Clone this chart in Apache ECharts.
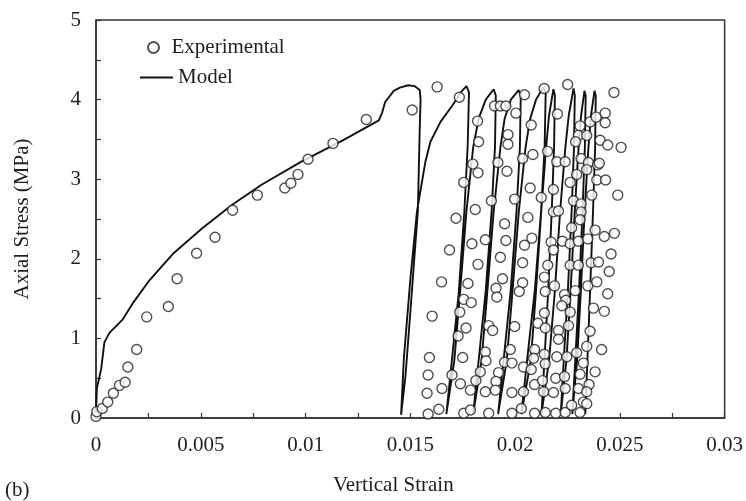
<!DOCTYPE html>
<html>
<head>
<meta charset="utf-8">
<script src="https://cdn.jsdelivr.net/npm/echarts@6/dist/echarts.min.js"></script>
<style>
html,body{margin:0;padding:0;background:#fff;}
#chart{width:746px;height:501px;}
</style>
</head>
<body>
<div id="chart"></div>
<script>
// ---- Data ----
const seriesNames = ['Experimental', 'Model'];
const xAxisTitle = 'Vertical Strain';
const yAxisTitle = 'Axial Stress (MPa)';
const panelLabel = '(b)';

// Experimental points [strain, stress]
const experimental = [
  [0,0.02],[0.00004,0.08],[0.0003,0.12],[0.00056,0.20],[0.00083,0.31],[0.00112,0.41],[0.00139,0.45],
  [0.00152,0.64],[0.00194,0.86],[0.00242,1.27],[0.00345,1.40],[0.00387,1.75],[0.0048,2.07],[0.00568,2.27],
  [0.00652,2.61],[0.0077,2.80],[0.00901,2.89],[0.0093,2.95],[0.00964,3.06],[0.01012,3.25],[0.01131,3.45],
  [0.0129,3.75],[0.01509,3.87],
  [0.01628,4.16],[0.01734,4.03],[0.01821,3.73],[0.01902,3.92],[0.0193,3.92],[0.01956,3.92],[0.02004,3.83],
  [0.02045,4.06],[0.02139,4.14],[0.02251,4.19],[0.02472,4.09],[0.02077,3.68],[0.02202,3.82],[0.0231,3.67],
  [0.02358,3.72],[0.02387,3.78],[0.0243,3.83],[0.0243,3.71],[0.01826,3.47],[0.01966,3.56],[0.01966,3.44],
  [0.02302,3.55],[0.02342,3.55],[0.02289,3.47],[0.02406,3.49],[0.02442,3.43],[0.02506,3.40],
  [0.01798,3.19],[0.01823,3.08],[0.01918,3.21],[0.01961,3.10],[0.02036,3.26],[0.02085,3.31],[0.02155,3.35],
  [0.02199,3.22],[0.02239,3.22],[0.02315,3.26],[0.0235,3.21],[0.02394,3.18],[0.02402,3.20],[0.02294,3.06],
  [0.02342,3.12],[0.0239,2.99],[0.02432,2.99],[0.01755,2.96],[0.02263,2.96],[0.02072,2.89],[0.02183,2.87],
  [0.01887,2.73],[0.01998,2.75],[0.02125,2.77],[0.02279,2.73],[0.02315,2.69],[0.02366,2.80],[0.0249,2.80],
  [0.0181,2.62],[0.01718,2.51],[0.02183,2.59],[0.02207,2.60],[0.02315,2.59],[0.02061,2.52],[0.0231,2.49],
  [0.0195,2.44],[0.0227,2.39],[0.01858,2.24],[0.01956,2.23],[0.0208,2.26],[0.02172,2.21],[0.02226,2.22],
  [0.02263,2.19],[0.02302,2.22],[0.02347,2.25],[0.02382,2.36],[0.02426,2.28],[0.02474,2.32],[0.01687,2.11],
  [0.01794,2.19],[0.02045,2.17],[0.02183,2.11],[0.01823,1.93],[0.0193,2.02],[0.02036,1.95],[0.02156,1.92],
  [0.02263,1.92],[0.02302,1.92],[0.02363,1.95],[0.02398,1.96],[0.02458,2.06],[0.02449,1.84],
  [0.01649,1.71],[0.01775,1.69],[0.0194,1.75],[0.01909,1.63],[0.01913,1.52],[0.02036,1.70],[0.0202,1.59],
  [0.0214,1.77],[0.02144,1.59],[0.02188,1.66],[0.02236,1.55],[0.02287,1.60],[0.02347,1.66],[0.0239,1.71],
  [0.02442,1.56],[0.01755,1.49],[0.01791,1.45],[0.01736,1.33],[0.01604,1.28],[0.02242,1.48],[0.02223,1.41],
  [0.02263,1.33],[0.02374,1.38],[0.02426,1.34],[0.0214,1.32],[0.02109,1.19],[0.01874,1.16],[0.01893,1.10],
  [0.01998,1.15],[0.01766,1.13],[0.02144,1.13],[0.02207,1.10],[0.02255,1.16],[0.02358,1.09],[0.01728,1.03],
  [0.02207,0.99],[0.02093,0.86],[0.01858,0.83],[0.01977,0.86],[0.0214,0.80],[0.02342,0.90],[0.02413,0.86],
  [0.01591,0.76],[0.0175,0.76],[0.02088,0.75],[0.02199,0.77],[0.02247,0.77],[0.02294,0.82],[0.01861,0.72],
  [0.0195,0.70],[0.01985,0.69],[0.0204,0.64],[0.02077,0.61],[0.02144,0.68],[0.02326,0.69],[0.02382,0.58],
  [0.01585,0.54],[0.01699,0.54],[0.01834,0.58],[0.01921,0.57],[0.01813,0.47],[0.01739,0.43],[0.01909,0.46],
  [0.02093,0.42],[0.02131,0.47],[0.02194,0.50],[0.02236,0.52],[0.0231,0.55],[0.02353,0.42],[0.01651,0.37],
  [0.0158,0.31],[0.01787,0.35],[0.01858,0.33],[0.01906,0.35],[0.01985,0.32],[0.0204,0.33],[0.02136,0.33],
  [0.02183,0.32],[0.02239,0.37],[0.02302,0.37],[0.02342,0.33],[0.01636,0.11],[0.01585,0.05],[0.01755,0.06],
  [0.01787,0.10],[0.01874,0.06],[0.01985,0.06],[0.0203,0.12],[0.02093,0.06],[0.02144,0.07],[0.02194,0.06],
  [0.02239,0.07],[0.0227,0.16],[0.0231,0.07],[0.02326,0.20],[0.02342,0.18]
];

// Model curve [strain, stress], in drawing order (loading / unloading loops)
const model = [
  [0,0],[0.00002,0.2],[0.00004,0.37],[0.00025,0.62],[0.0004,0.95],[0.00064,1.07],[0.00128,1.24],
  [0.00175,1.44],[0.00255,1.73],[0.00366,2.06],[0.0051,2.39],[0.0065,2.68],[0.0079,2.93],[0.0098,3.22],
  [0.0118,3.49],[0.0135,3.74],[0.01366,3.84],[0.0138,3.97],[0.01421,4.11],[0.0145,4.15],[0.0149,4.18],
  [0.0152,4.17],[0.01545,4.12],
  [0.01549,4.0],[0.01545,3.64],[0.01536,2.60],[0.01501,1.36],[0.01477,0.53],[0.01456,0.04],
  [0.01469,0.74],[0.01501,1.77],[0.01532,2.60],[0.01572,3.22],[0.01596,3.47],[0.01644,3.72],[0.01699,3.92],
  [0.01747,4.11],[0.01768,4.17],
  [0.0178,4.09],[0.01774,3.43],[0.01758,2.60],[0.01731,1.57],[0.01699,0.74],[0.01672,0.05],
  [0.0171,0.72],[0.01738,1.6],[0.01768,2.6],[0.018,3.4],[0.01826,3.76],[0.0186,4.0],[0.01898,4.13],
  [0.01908,4.05],[0.01904,3.4],[0.01888,2.6],[0.0186,1.6],[0.01826,0.72],[0.018,0.05],
  [0.0184,0.72],[0.01868,1.6],[0.01898,2.6],[0.0193,3.4],[0.0195,3.76],[0.0198,4.0],[0.02017,4.12],
  [0.02027,4.05],[0.02023,3.4],[0.02007,2.6],[0.01979,1.6],[0.01945,0.72],[0.01919,0.05],
  [0.0196,0.72],[0.01988,1.6],[0.02018,2.6],[0.0205,3.4],[0.02072,3.76],[0.021,4.0],[0.02136,4.16],
  [0.02146,4.08],[0.02141,3.4],[0.02124,2.6],[0.02094,1.6],[0.02057,0.72],[0.0203,0.05],
  [0.02075,0.72],[0.021,1.6],[0.02125,2.6],[0.02148,3.4],[0.02162,3.8],[0.02183,4.13],
  [0.0219,4.05],[0.02186,3.4],[0.02175,2.6],[0.02158,1.6],[0.0214,0.72],[0.02126,0.05],
  [0.02162,0.72],[0.0219,1.6],[0.02215,2.6],[0.0224,3.4],[0.02256,3.8],[0.02279,4.14],
  [0.02285,4.05],[0.02281,3.4],[0.0227,2.6],[0.02252,1.6],[0.02232,0.72],[0.02218,0.05],
  [0.02245,0.72],[0.02265,1.6],[0.02285,2.6],[0.02303,3.4],[0.02315,3.8],[0.02331,4.11],
  [0.02337,4.05],[0.02333,3.4],[0.02322,2.6],[0.02305,1.6],[0.02287,0.72],[0.02273,0.05],
  [0.02296,0.72],[0.02314,1.6],[0.02332,2.6],[0.0235,3.4],[0.02362,3.8],[0.02379,4.11],
  [0.02385,4.05],[0.02382,3.4],[0.02372,2.6],[0.02358,1.6],[0.02345,0.72],[0.02335,0.05]
];

// Axis ranges
const xRange = [0, 0.03], xStep = 0.005;
const yRange = [0, 5], yStep = 1;

// ---- Chart ----
const FONT = 'Liberation Serif';
const INK = '#1e1e1e';
const FS = 21;
const chart = echarts.init(document.getElementById('chart'), null, {renderer: 'canvas'});
chart.setOption({
  animation: false,
  backgroundColor: '#fff',
  textStyle: {fontFamily: FONT, color: INK},
  grid: {left: 96, right: 20, top: 20, bottom: 78, show: true, borderColor: '#333', borderWidth: 1.5, containLabel: false},
  legend: [
    {data: [{name: seriesNames[0], icon: 'circle'}], left: 142, top: 32, orient: 'vertical', itemWidth: 26, itemHeight: 11,
     textStyle: {fontFamily: FONT, fontSize: FS, color: INK}, selectedMode: false},
    {data: [{name: seriesNames[1], icon: 'rect'}], left: 135, top: 62, orient: 'vertical', itemWidth: 33, itemHeight: 2,
     itemStyle: {color: '#111'},
     textStyle: {fontFamily: FONT, fontSize: FS, color: INK}, selectedMode: false}
  ],
  xAxis: {
    type: 'value', min: xRange[0], max: xRange[1], interval: xStep,
    name: xAxisTitle, nameLocation: 'middle', nameGap: 57,
    nameTextStyle: {fontFamily: FONT, fontSize: FS, color: INK, padding: [0, 34, 0, 0]},
    axisLine: {show: true, lineStyle: {color: '#333', width: 1.5}},
    axisTick: {show: true, inside: true, length: 5, lineStyle: {color: '#333', width: 1.2}},
    minorTick: {show: true, splitNumber: 2, length: 5, lineStyle: {color: '#333', width: 1.2}},
    axisLabel: {fontFamily: FONT, fontSize: FS, color: INK, margin: 17},
    splitLine: {show: false}
  },
  yAxis: {
    type: 'value', min: yRange[0], max: yRange[1], interval: yStep,
    name: yAxisTitle, nameLocation: 'middle', nameGap: 63,
    nameTextStyle: {fontFamily: FONT, fontSize: FS, color: INK},
    axisLine: {show: true, lineStyle: {color: '#333', width: 1.5}},
    axisTick: {show: true, inside: true, length: 5, lineStyle: {color: '#333', width: 1.2}},
    minorTick: {show: true, splitNumber: 2, length: 5, lineStyle: {color: '#333', width: 1.2}},
    axisLabel: {fontFamily: FONT, fontSize: FS, color: INK, margin: 15},
    splitLine: {show: false}
  },
  graphic: [
    {type: 'text', left: 5, top: 480, style: {text: panelLabel, font: FS + 'px "Liberation Serif"', fill: INK}}
  ],
  series: [
    {
      name: seriesNames[1], type: 'line', data: model, showSymbol: false, symbol: 'none',
      color: '#111', lineStyle: {color: '#111', width: 1.9}, z: 2, smooth: false
    },
    {
      name: seriesNames[0], type: 'scatter', data: experimental, symbol: 'circle', symbolSize: 10,
      itemStyle: {color: '#fff', borderColor: '#222', borderWidth: 1.4}, z: 3
    }
  ]
});
</script>
</body>
</html>
